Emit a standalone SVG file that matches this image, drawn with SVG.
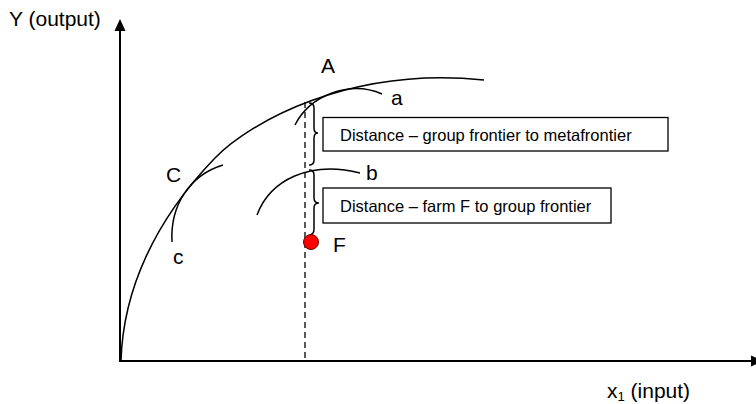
<svg xmlns="http://www.w3.org/2000/svg" width="756" height="404" viewBox="0 0 756 404">
<style>
.lbl{font-family:"Liberation Sans",Arial,sans-serif;font-size:21px;fill:#000}
.box{font-family:"Liberation Sans",Arial,sans-serif;font-size:16.5px;fill:#000}
.curve{fill:none;stroke:#000;stroke-width:1.5}
.axis{fill:none;stroke:#000;stroke-width:2}
.rect{fill:#fff;stroke:#000;stroke-width:1.3}
</style>
<rect width="756" height="404" fill="#fff"/>
<g id="axes">
<line class="axis" x1="120" y1="361" x2="120" y2="28"/>
<polygon points="114.5,31 120,19 125.5,31" fill="#000"/>
<line class="axis" x1="119" y1="361" x2="752" y2="361"/>
<polygon points="751,355.5 763,361 751,366.5" fill="#000"/>
<text class="lbl" x="9" y="26" font-size="22">Y (output)</text>
<text class="lbl" x="607" y="398">x<tspan font-size="13" dy="3">1</tspan><tspan dy="-3"> (input)</tspan></text>
</g>
<g id="connectors">
<path id="metafrontier" class="curve" d="M121,361 C123,290 155,220 215,158 C250,122 350,66 484,80"/>
<path id="frontier-a" class="curve" d="M295,125 C310,95 350,80 382,94"/>
<path id="frontier-b" class="curve" d="M257,215 C270,180 310,160 360,173"/>
<path id="frontier-c" class="curve" d="M172,242 C170,205 190,175 223,165"/>
<line x1="305" y1="102" x2="305" y2="361" stroke="#000" stroke-width="1.3" stroke-dasharray="6,4"/>
<path class="curve" stroke-width="1.3" d="M309,103 Q314,103 314,108 L314,128 Q314,133 318,133 Q314,133 314,138 L314,160 Q314,165 309,165"/>
<path class="curve" stroke-width="1.3" d="M309,170 Q314,170 314,175 L314,198 Q314,203 319,203 Q314,203 314,208 L314,229 Q314,234 310,235"/>
</g>
<g id="label-A"><text class="lbl" x="321" y="73">A</text></g>
<g id="label-a"><text class="lbl" x="391" y="105">a</text></g>
<g id="label-b"><text class="lbl" x="366" y="180">b</text></g>
<g id="label-C"><text class="lbl" x="166" y="182">C</text></g>
<g id="label-c"><text class="lbl" x="173" y="264">c</text></g>
<g id="point-F">
<circle cx="311" cy="242" r="7.5" fill="#f00" stroke="#600" stroke-width="1"/>
<text class="lbl" x="333" y="252">F</text>
</g>
<g id="box-group">
<rect class="rect" x="323" y="117.5" width="345" height="33.5"/>
<text class="box" x="340" y="141">Distance – group frontier to metafrontier</text>
</g>
<g id="box-farm">
<rect class="rect" x="323" y="188" width="288" height="35"/>
<text class="box" x="340" y="212">Distance – farm F to group frontier</text>
</g>
</svg>
